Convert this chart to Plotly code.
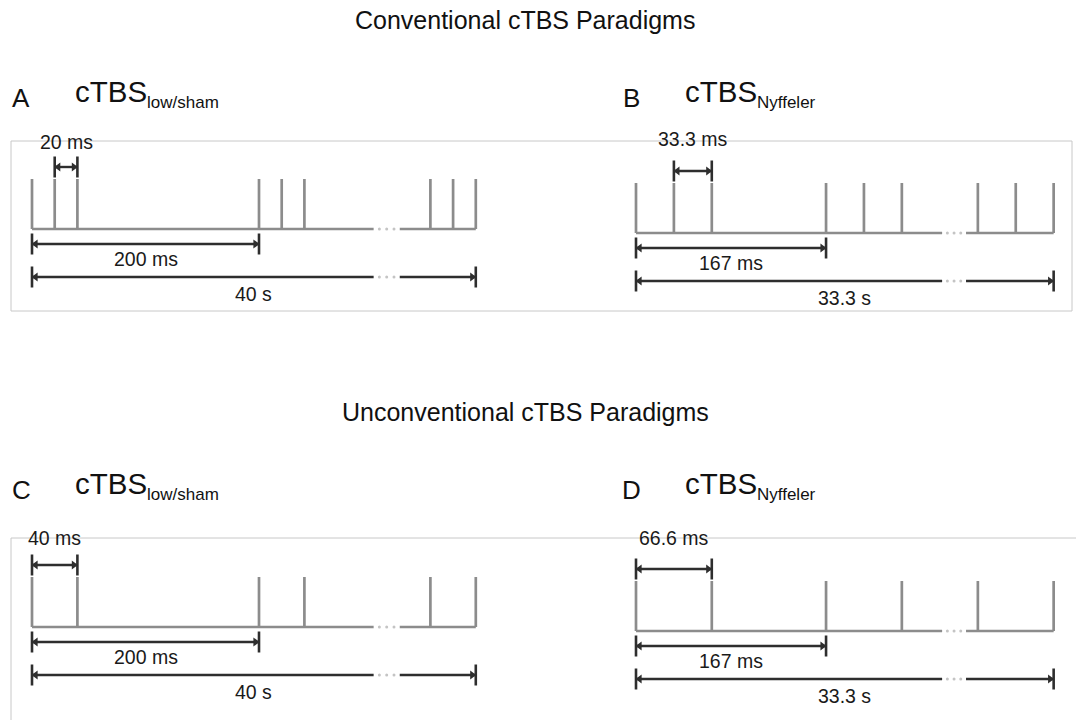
import plotly.graph_objects as go

W, H = 1076, 724
FONT = "Liberation Sans, Arial, sans-serif"

# ---------------- data ----------------
ROW_TITLES = ["Conventional cTBS Paradigms", "Unconventional cTBS Paradigms"]
PANEL_LETTERS = ["A", "B", "C", "D"]
PANEL_PROTOCOLS = ["low/sham", "Nyffeler", "low/sham", "Nyffeler"]

# pulse times (ms) at the start of the train and in the last burst
A_PULSES_MS = [0, 20, 40, 200, 220, 240]
A_LAST_PULSES_MS = [39960, 39980, 40000]
B_PULSES_MS = [0, 33.3, 66.6, 167, 200.3, 233.6]
B_LAST_PULSES_MS = [33233.4, 33266.7, 33300]
C_PULSES_MS = [0, 40, 200, 240]
C_LAST_PULSES_MS = [39960, 40000]
D_PULSES_MS = [0, 66.6, 167, 233.6]
D_LAST_PULSES_MS = [33233.4, 33300]

TRAIN_MS = [40000, 33300, 40000, 33300]
SHORT_INTERVAL_MS = [(20, 40), (33.3, 66.6), (0, 40), (0, 66.6)]
BURST_INTERVAL_MS = [(0, 200), (0, 167), (0, 200), (0, 167)]
SHORT_LABELS = ["20 ms", "33.3 ms", "40 ms", "66.6 ms"]
BURST_LABELS = ["200 ms", "167 ms", "200 ms", "167 ms"]
TRAIN_LABELS = ["40 s", "33.3 s", "40 s", "33.3 s"]

PULSES = [A_PULSES_MS, B_PULSES_MS, C_PULSES_MS, D_PULSES_MS]
LAST_PULSES = [A_LAST_PULSES_MS, B_LAST_PULSES_MS, C_LAST_PULSES_MS, D_LAST_PULSES_MS]

# ---------------- layout / style ----------------
COL_T0_PX = [32, 636]
COL_PX_PER_MS = [1.135, 1.138]
COL_DOMAIN = [(0, 0.5), (0.5, 1.0)]
COL_END_DISPLAY = [391, 367]        # where train end is drawn (axis break)
COL_GAP = [(-90, -67), (-98, -77)]  # ellipsis gap relative to end display
PANEL_BASE_PX = [229, 233, 627, 631]
PX_PER_UNIT = 50
ROW_DOMAIN = [(0.5, 1.0), (0.0, 0.5)]

PULSE_COLOR = "#8c8c8c"
ARROW_COLOR = "#2e2e2e"
DOT_COLOR = "#c4c4c4"
BOX_COLOR = "#c8c8c8"

Y_SHORT = 1.24
Y_SHORT_LABEL = [1.74, 1.88, 1.78, 1.86]
Y_BURST, Y_BURST_LABEL = -0.30, -0.60
Y_TRAIN, Y_TRAIN_LABEL = -0.96, -1.30

fig = go.Figure()
layout_axes = {}
annotations = []


def disp(t, train, col):
    return t if t < 1000 else t - train + COL_END_DISPLAY[col]


for i in range(4):
    row, col = divmod(i, 2)
    n = i + 1
    xa = "x" if n == 1 else f"x{n}"
    ya = "y" if n == 1 else f"y{n}"
    xkey = "xaxis" if n == 1 else f"xaxis{n}"
    ykey = "yaxis" if n == 1 else f"yaxis{n}"

    d0, d1 = COL_DOMAIN[col]
    width_px = (d1 - d0) * W
    left_px = d0 * W
    s = COL_PX_PER_MS[col]
    x0_px = COL_T0_PX[col] - left_px
    xr = [-x0_px / s, (width_px - x0_px) / s]
    r0, r1 = ROW_DOMAIN[row]
    top_px = (1 - r1) * H
    height_px = (r1 - r0) * H
    ymax = (PANEL_BASE_PX[i] - top_px) / PX_PER_UNIT
    yr = [ymax - height_px / PX_PER_UNIT, ymax]
    axcommon = dict(visible=False, showgrid=False, zeroline=False, fixedrange=True)
    layout_axes[xkey] = dict(domain=[d0, d1], range=xr, anchor=ya, **axcommon)
    layout_axes[ykey] = dict(domain=[r0, r1], range=yr, anchor=xa, **axcommon)

    train = TRAIN_MS[i]
    px = [disp(t, train, col) for t in PULSES[i]]
    lx = [disp(t, train, col) for t in LAST_PULSES[i]]
    end = lx[-1]
    g0 = COL_END_DISPLAY[col] + COL_GAP[col][0]
    g1 = COL_END_DISPLAY[col] + COL_GAP[col][1]
    dots = [g0 + (g1 - g0) * f for f in (0.22, 0.5, 0.78)]

    vx, vy = [], []
    for p in px + lx:
        vx += [p, p, None]
        vy += [0, 1, None]
    vx += [px[0], g0, None, g1, end]
    vy += [0, 0, None, 0, 0]
    fig.add_trace(go.Scatter(x=vx, y=vy, xaxis=xa, yaxis=ya, mode="lines",
                             line=dict(color=PULSE_COLOR, width=2.7),
                             hoverinfo="skip", showlegend=False))
    fig.add_trace(go.Scatter(x=dots, y=[0, 0, 0], xaxis=xa, yaxis=ya, mode="markers",
                             marker=dict(color=DOT_COLOR, size=3),
                             hoverinfo="skip", showlegend=False))

    off = 3.6 / s

    def dim_arrow(a, b, y, gap=None):
        if gap is None:
            lx_, ly_ = [a, b], [y, y]
        else:
            lx_ = [a, gap[0], None, gap[1], b]
            ly_ = [y, y, None, y, y]
        fig.add_trace(go.Scatter(x=lx_, y=ly_, xaxis=xa, yaxis=ya, mode="lines",
                                 line=dict(color=ARROW_COLOR, width=2.4),
                                 hoverinfo="skip", showlegend=False))
        fig.add_trace(go.Scatter(x=[a, b], y=[y, y], xaxis=xa, yaxis=ya, mode="markers",
                                 marker=dict(symbol="line-ns", size=15,
                                             line=dict(color=ARROW_COLOR, width=2.6)),
                                 hoverinfo="skip", showlegend=False))
        fig.add_trace(go.Scatter(x=[a + off, b - off], y=[y, y], xaxis=xa, yaxis=ya,
                                 mode="markers",
                                 marker=dict(symbol=["triangle-left", "triangle-right"],
                                             size=8, color=ARROW_COLOR),
                                 hoverinfo="skip", showlegend=False))
        if gap is not None:
            gd = [gap[0] + (gap[1] - gap[0]) * f for f in (0.22, 0.5, 0.78)]
            fig.add_trace(go.Scatter(x=gd, y=[y] * 3, xaxis=xa, yaxis=ya, mode="markers",
                                     marker=dict(color=DOT_COLOR, size=3),
                                     hoverinfo="skip", showlegend=False))

    sa, sb = SHORT_INTERVAL_MS[i]
    ba, bb = BURST_INTERVAL_MS[i]
    dim_arrow(sa, sb, Y_SHORT)
    dim_arrow(ba, bb, Y_BURST)
    dim_arrow(px[0], end, Y_TRAIN, gap=(g0, g1))

    lab_font = dict(family=FONT, size=19.5, color="#1a1a1a")
    for x_, y_, t_ in [((sa + sb) / 2, Y_SHORT_LABEL[i], SHORT_LABELS[i]),
                       ((ba + bb) / 2, Y_BURST_LABEL, BURST_LABELS[i]),
                       ((px[0] + end) / 2, Y_TRAIN_LABEL, TRAIN_LABELS[i])]:
        annotations.append(dict(x=x_, y=y_, xref=xa, yref=ya, text=t_, showarrow=False,
                                font=lab_font, xanchor="center", yanchor="middle"))

    base_x = 0 if col == 0 else 610
    head_y = 98 if row == 0 else 490
    annotations.append(dict(x=(base_x + 21) / W, y=1 - head_y / H, xref="paper", yref="paper",
                            text=PANEL_LETTERS[i], showarrow=False,
                            font=dict(family=FONT, size=26, color="#111"),
                            xanchor="center", yanchor="middle"))
    annotations.append(dict(x=(base_x + 73) / W, y=1 - (head_y - 7) / H, xref="paper",
                            yref="paper", text="cTBS", showarrow=False,
                            font=dict(family=FONT, size=29.5, color="#111"),
                            xanchor="left", yanchor="middle"))
    annotations.append(dict(x=(base_x + 145) / W, y=1 - (head_y + 4) / H, xref="paper",
                            yref="paper", text=PANEL_PROTOCOLS[i], showarrow=False,
                            font=dict(family=FONT, size=17, color="#111"),
                            xanchor="left", yanchor="middle"))

for t, yp in zip(ROW_TITLES, [20, 412]):
    annotations.append(dict(x=525 / W, y=1 - yp / H, xref="paper", yref="paper", text=t,
                            showarrow=False, font=dict(family=FONT, size=25, color="#111"),
                            xanchor="center", yanchor="middle"))

shapes = [
    dict(type="rect", xref="paper", yref="paper", x0=11 / W, x1=1072 / W,
         y0=1 - 311 / H, y1=1 - 141 / H, line=dict(color=BOX_COLOR, width=1), layer="below"),
    dict(type="line", xref="paper", yref="paper", x0=11 / W, x1=1.0,
         y0=1 - 538 / H, y1=1 - 538 / H, line=dict(color=BOX_COLOR, width=1), layer="below"),
    dict(type="line", xref="paper", yref="paper", x0=11 / W, x1=11 / W,
         y0=1 - 538 / H, y1=1 - 720 / H, line=dict(color=BOX_COLOR, width=1), layer="below"),
]

fig.update_layout(width=W, height=H, margin=dict(l=0, r=0, t=0, b=0),
                  paper_bgcolor="white", plot_bgcolor="rgba(0,0,0,0)",
                  showlegend=False, annotations=annotations, shapes=shapes,
                  **layout_axes)
fig.write_html("out.html", config={"displayModeBar": False})
